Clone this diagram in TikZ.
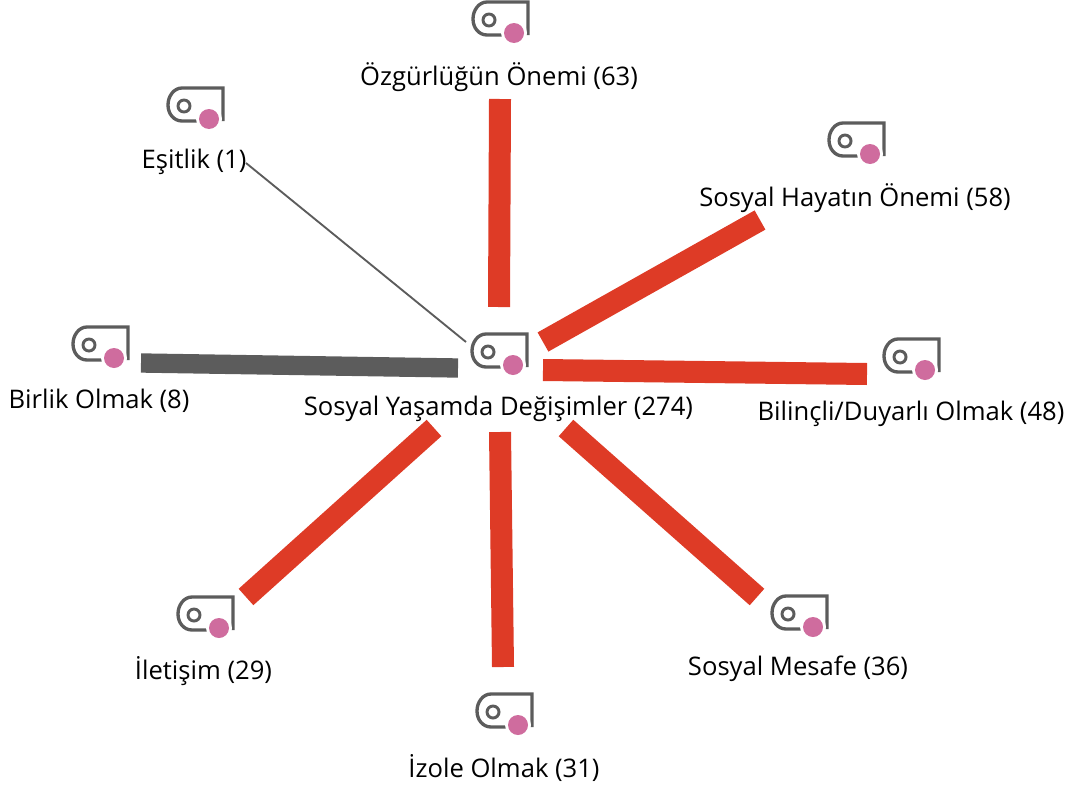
\documentclass[tikz,border=0pt]{standalone}
\usepackage{fontspec}
\setmainfont{Open Sans}
\definecolor{barred}{HTML}{DE3B26}
\definecolor{bargray}{HTML}{5C5C5C}
\definecolor{tagpink}{HTML}{CF6C9E}
\tikzset{
	codelabel/.style={inner sep=0pt, font=\fontsize{19.2}{22}\selectfont, text=black},
	strongbar/.style={barred, line width=16.5pt},
	graybar/.style={bargray, line width=14.5pt},
	thinbar/.style={bargray, line width=1.4pt},
	codetag/.pic={
		\draw [bargray, line width=2.5pt]
			(14,-33) -- (14,0) -- (-27,0) .. controls (-35,0) and (-41,-8) .. (-41,-17)
			.. controls (-41,-26) and (-35,-33) .. (-27,-33) -- (0,-33);
		\draw [bargray, line width=2.2pt] (-25,-18) circle (6);
		\fill [white] (0,-31) circle (13);
		\fill [tagpink] (0,-31) circle (10);
	}
}
\begin{document}
\begin{tikzpicture}[x=0.75pt, y=0.75pt]
	\useasboundingbox (0,0) rectangle (1067,-785);
	% labels
	\node [codelabel] (hub) at (498.5,-408.5) {Sosyal Yaşamda Değişimler (274)};
	\node [codelabel] (ozgurluk) at (499,-77) {Özgürlüğün Önemi (63)};
	\node [codelabel] (esitlik) at (194,-162) {Eşitlik (1)};
	\node [codelabel] (hayat) at (855,-198) {Sosyal Hayatın Önemi (58)};
	\node [codelabel] (birlik) at (99,-401) {Birlik Olmak (8)};
	\node [codelabel] (bilincli) at (911,-414) {Bilinçli/Duyarlı Olmak (48)};
	\node [codelabel] (iletisim) at (203.5,-671) {İletişim (29)};
	\node [codelabel] (izole) at (504,-768) {İzole Olmak (31)};
	\node [codelabel] (mesafe) at (798,-669) {Sosyal Mesafe (36)};
	% tags
	\pic at (513,-334) {codetag};
	\pic at (514,-2) {codetag};
	\pic at (209,-88) {codetag};
	\pic at (870,-123) {codetag};
	\pic at (114,-327) {codetag};
	\pic at (925,-339) {codetag};
	\pic at (219,-597) {codetag};
	\pic at (518,-694) {codetag};
	\pic at (813,-596) {codetag};
	% bar ends
	\coordinate (ozgurlukA) at (499,-307);
	\coordinate (ozgurlukB) at (500,-99);
	\coordinate (hayatA) at (543,-342);
	\coordinate (hayatB) at (760,-220);
	\coordinate (bilincliA) at (543,-370);
	\coordinate (bilincliB) at (867,-374);
	\coordinate (birlikA) at (458,-368);
	\coordinate (birlikB) at (141,-363);
	\coordinate (esitlikA) at (466,-342);
	\coordinate (esitlikB) at (246,-163);
	\coordinate (iletisimA) at (434,-428);
	\coordinate (iletisimB) at (246,-597);
	\coordinate (izoleA) at (500,-432);
	\coordinate (izoleB) at (503,-667);
	\coordinate (mesafeA) at (566,-428);
	\coordinate (mesafeB) at (757,-597);
	% bars
	\draw [strongbar] (ozgurlukA) -- (ozgurlukB);
	\draw [strongbar] (hayatA) -- (hayatB);
	\draw [strongbar] (bilincliA) -- (bilincliB);
	\draw [graybar] (birlikA) -- (birlikB);
	\draw [thinbar] (esitlikA) -- (esitlikB);
	\draw [strongbar] (iletisimA) -- (iletisimB);
	\draw [strongbar] (izoleA) -- (izoleB);
	\draw [strongbar] (mesafeA) -- (mesafeB);
\end{tikzpicture}
\end{document}
